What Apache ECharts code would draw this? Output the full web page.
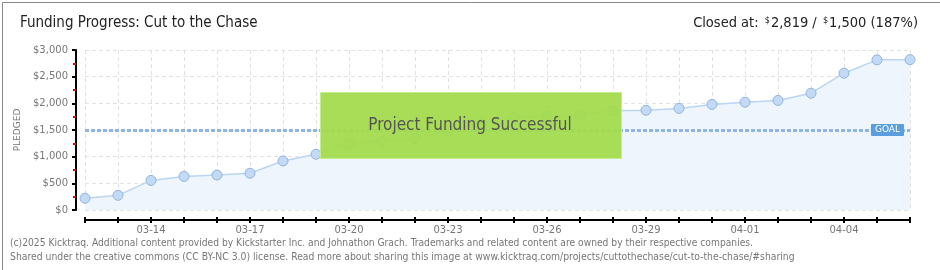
<!DOCTYPE html>
<html>
<head>
<meta charset="utf-8">
<script src="https://cdn.jsdelivr.net/npm/echarts@6/dist/echarts.min.js"></script>
<style>
html,body{margin:0;padding:0;background:#fff;}
#chart{width:940px;height:270px;}
</style>
</head>
<body>
<div id="chart"></div>
<script>
const dates = ['03-12','03-13','03-14','03-15','03-16','03-17','03-18','03-19','03-20','03-21','03-22','03-23','03-24','03-25','03-26','03-27','03-28','03-29','03-30','03-31','04-01','04-02','04-03','04-04','04-05','04-06'];
const pledged = [220, 275, 555, 630, 655, 690, 920, 1045, 1245, 1290, 1345, 1480, 1620, 1740, 1760, 1780, 1860, 1870, 1905, 1980, 2020, 2055, 2190, 2565, 2815, 2819];
const goal = 1500;
const yTicks = {min: 0, max: 3000, interval: 500};
const titleText = 'Funding Progress: Cut to the Chase';
const closedText = {pledged: '2,819', goal: '1,500', pct: '(187%)'};
const bannerText = 'Project Funding Successful';
const footer = [
  '(c)2025 Kicktraq. Additional content provided by Kickstarter Inc. and Johnathon Grach. Trademarks and related content are owned by their respective companies.',
  'Shared under the creative commons (CC BY-NC 3.0) license. Read more about sharing this image at www.kicktraq.com/projects/cuttothechase/cut-to-the-chase/#sharing'
];

const narrow = "'DejaVu Sans Condensed',sans-serif";
const chart = echarts.init(document.getElementById('chart'), null, {renderer: 'canvas'});
chart.setOption({
  animation: false,
  backgroundColor: '#fff',
  grid: {left: 85, right: 30, top: 50, bottom: 60, containLabel: false},
  title: [
    {text: titleText, left: 20, top: 16, padding: 0, textStyle: {fontFamily: narrow, fontSize: 15, fontWeight: 'normal', color: '#222'}},
    {text: '{t|Closed at: }{s|$}{t|' + closedText.pledged + ' / }{s|$}{t|' + closedText.goal + ' ' + closedText.pct + '}',
     right: 22, top: 16, padding: 0,
     textStyle: {fontWeight: 'normal', rich: {
       t: {fontFamily: narrow, fontSize: 14.5, fontWeight: 'normal', color: '#222'},
       s: {fontFamily: narrow, fontSize: 9, fontWeight: 'normal', color: '#222', verticalAlign: 'top', padding: [0,1,6,2]}
     }}}
  ],
  xAxis: [{
    type: 'category', data: dates, boundaryGap: false, offset: 10,
    axisLine: {show: true, onZero: false, lineStyle: {color: '#000', width: 2}},
    axisTick: {show: true, interval: 0, length: 3, lineStyle: {color: '#000', width: 2}},
    axisLabel: {interval: (i) => (i - 2) % 3 === 0, color: '#777', fontFamily: 'DejaVu Sans', fontSize: 10, margin: 5},
    splitLine: {show: true, interval: 0, lineStyle: {color: '#e2e2e2', type: [4, 3], width: 1}}
  }, {
    type: 'category', data: dates, boundaryGap: false, offset: 10, position: 'bottom',
    axisLine: {show: false, onZero: false},
    axisTick: {show: true, inside: true, interval: 0, length: 3, lineStyle: {color: '#000', width: 2}},
    axisLabel: {show: false}, splitLine: {show: false}
  }],
  yAxis: {
    type: 'value', min: yTicks.min, max: yTicks.max, interval: yTicks.interval, offset: 9,
    name: 'PLEDGED', nameLocation: 'middle', nameGap: 49, nameRotate: 90,
    nameTextStyle: {color: '#777', fontFamily: 'DejaVu Sans', fontSize: 9},
    axisLine: {show: true, lineStyle: {color: '#000', width: 2}},
    axisTick: {show: true, length: 4, lineStyle: {color: '#000', width: 2}},
    minorTick: {show: true, splitNumber: 2, length: 3, lineStyle: {color: '#e00', width: 2}},
    axisLabel: {color: '#777', fontFamily: 'DejaVu Sans', fontSize: 10, margin: 8,
      formatter: (v) => '$' + v.toLocaleString('en-US')},
    splitLine: {show: true, lineStyle: {color: '#e2e2e2', type: [4, 3], width: 1}}
  },
  series: [{
    type: 'line', data: pledged, xAxisIndex: 0,
    symbol: 'circle', symbolSize: 10, showAllSymbol: true,
    lineStyle: {color: '#b9d5f2', width: 1.5},
    itemStyle: {color: '#c2daf5', borderColor: '#93b4dc', borderWidth: 1},
    areaStyle: {color: '#eef5fd', opacity: 1},
    z: 3,
    markLine: {
      silent: true, symbol: 'none',
      lineStyle: {color: '#8fb6e3', width: 3, type: [4, 2]},
      label: {show: true, position: 'insideEnd', distance: 6, formatter: 'GOAL',
        color: '#fff', backgroundColor: '#5b9ee0', padding: [2, 4, 1, 4], borderRadius: 1,
        fontFamily: 'DejaVu Sans', fontSize: 9},
      data: [{yAxis: goal}]
    }
  }],
  graphic: [
    {type: 'rect', left: 320, top: 92, z: 100,
     shape: {width: 301, height: 66},
     style: {fill: 'rgba(162,218,74,0.93)', stroke: '#c6ea8e', lineWidth: 1}},
    {type: 'text', left: 'center', top: 117, z: 101,
     style: {text: bannerText, fill: '#555', fontFamily: narrow, fontSize: 17,
       textShadowColor: '#fff', textShadowOffsetX: 1, textShadowOffsetY: 1, textShadowBlur: 0}},
    {type: 'text', left: 10, top: 238, z: 101,
     style: {text: footer[0], fill: '#777', fontFamily: "'DejaVu Sans Condensed','DejaVu Sans',sans-serif", fontSize: 10.2}},
    {type: 'text', left: 10, top: 252, z: 101,
     style: {text: footer[1], fill: '#777', fontFamily: "'DejaVu Sans Condensed','DejaVu Sans',sans-serif", fontSize: 10.3}},
    {type: 'rect', left: 0, top: 0, z: 200, silent: true,
     shape: {x: 0, y: 0, width: 939, height: 269},
     style: {fill: 'none', stroke: '#888', lineWidth: 1}}
  ]
});
</script>
</body>
</html>
